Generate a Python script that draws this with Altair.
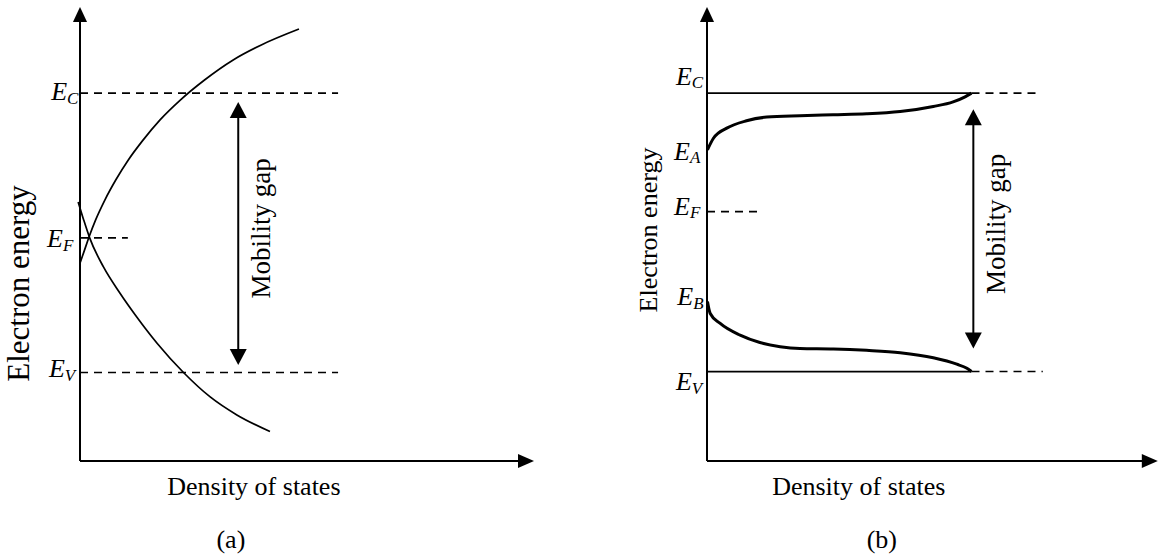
import altair as alt
import pandas as pd

FONT = "Liberation Serif"
INK = "black"

# Energy in arbitrary units (0 at the DOS axis), density of states in arbitrary units.
PANEL_W, PANEL_H = 585, 559
PX_PER_DOS, PX_PER_E = 46.0, 46.1
E_DOMAIN = [-98 / PX_PER_E, 461 / PX_PER_E]          # room below the axis for the captions
A_DOS_DOMAIN = [-80 / PX_PER_DOS, (PANEL_W - 80) / PX_PER_DOS]
B_DOS_DOMAIN = [-122 / PX_PER_DOS, (PANEL_W - 122) / PX_PER_DOS]

# ---- (a) overlapping tails: states spread through the whole gap ----------------
a_cb_dos = [0.00, 0.10, 0.20, 0.34, 0.54, 0.78, 1.05, 1.37, 1.74, 2.18, 2.70, 3.33, 3.93, 4.76]
a_cb_energy = [4.29, 4.58, 4.87, 5.23, 5.66, 6.10, 6.53, 6.96, 7.40, 7.83, 8.26, 8.70, 9.02, 9.37]
a_vb_dos = [-0.04, 0.08, 0.21, 0.51, 0.87, 1.23, 1.68, 2.25, 2.83, 3.41, 4.13]
a_vb_energy = [5.62, 5.23, 4.84, 4.21, 3.64, 3.13, 2.55, 1.92, 1.39, 1.00, 0.64]
a_level_names = ["C", "F", "V"]
a_level_energy = [7.98, 4.84, 1.92]
a_level_dash_end = [5.61, 1.04, 5.61]
a_label_dos = [-0.28, -0.37, -0.33]
a_label_energy = [7.83, 4.64, 1.82]
a_gap_dos = 3.44
a_gap_tips = [2.08, 7.79]
a_axis_tips = [9.87, 9.85]  # x-axis tip (dos), y-axis tip (energy)

# ---- (b) tails confined between E_A/E_C and E_V/E_B --------------------------
b_cb_dos = [0.01, 0.14, 0.43, 0.86, 1.30, 2.02, 2.74, 3.47, 4.20, 4.92, 5.35, 5.61, 5.75]
b_cb_energy = [6.75, 7.00, 7.22, 7.38, 7.46, 7.49, 7.51, 7.53, 7.58, 7.69, 7.79, 7.90, 7.98]
b_vb_dos = [0.01, 0.07, 0.28, 0.72, 1.15, 1.59, 2.02, 2.75, 3.47, 4.20, 4.92, 5.43, 5.65, 5.75]
b_vb_energy = [3.46, 3.20, 2.99, 2.73, 2.57, 2.48, 2.44, 2.43, 2.40, 2.35, 2.24, 2.10, 2.01, 1.94]
b_edge_energy = [7.98, 1.94]
b_edge_dos = 5.75
b_edge_dash_end = [7.24, 7.30]
b_fermi_energy = 5.41
b_fermi_dash_end = 1.09
b_label_names = ["C", "A", "F", "B", "V"]
b_label_dos = [-0.33, -0.37, -0.37, -0.30, -0.33]
b_label_energy = [8.16, 6.53, 5.34, 3.38, 1.54]
b_gap_dos = 5.79
b_gap_tips = [2.44, 7.63]
b_axis_tips = [9.80, 9.85]

HEAD_UP = "M0,0L0.47,1L-0.47,1Z"
HEAD_RIGHT = "M0,0L-1,-0.44L-1,0.44Z"
GAP_UP = "M0,0L0.53,1L-0.53,1Z"
GAP_DOWN = "M0,0L0.53,-1L-0.53,-1Z"
DASH = [8, 6]


def make_panel(dos_domain):
    def xq(field="dos"):
        return alt.X(f"{field}:Q", scale=alt.Scale(domain=dos_domain, nice=False, zero=False), axis=None)

    def yq(field="energy"):
        return alt.Y(f"{field}:Q", scale=alt.Scale(domain=E_DOMAIN, nice=False, zero=False), axis=None)

    def head(points, path, size):
        return alt.Chart(pd.DataFrame(points)).mark_point(
            shape=path, size=size, filled=True, color=INK, opacity=1
        ).encode(x=xq(), y=yq())

    def text_layer(rows, **style):
        base = dict(font=FONT, color=INK, fontSize=26, baseline="alphabetic", align="center")
        base.update(style)
        return alt.Chart(pd.DataFrame(rows)).mark_text(**base).encode(x=xq(), y=yq(), text="text:N")

    def hrules(dos, dos_end, energy, **style):
        df = pd.DataFrame({"dos": dos, "dos_end": dos_end, "energy": energy})
        return alt.Chart(df).mark_rule(color=INK, **style).encode(x=xq(), x2=alt.X2("dos_end:Q"), y=yq())

    def vrule(dos, lo, hi, **style):
        df = pd.DataFrame({"dos": [dos], "energy": [lo], "energy_end": [hi]})
        return alt.Chart(df).mark_rule(color=INK, **style).encode(x=xq(), y=yq(), y2=alt.Y2("energy_end:Q"))

    def frame(axis_tips):
        x_tip, y_tip = axis_tips
        return [
            hrules([0], [x_tip - 0.3], [0], strokeWidth=2),
            vrule(0, 0, y_tip - 0.3, strokeWidth=2),
            head([{"dos": 0, "energy": y_tip}], HEAD_UP, 900),
            head([{"dos": x_tip, "energy": 0}], HEAD_RIGHT, 1024),
        ]

    def gap_arrow(dos, tips, text_dos):
        lo, hi = tips
        return [
            vrule(dos, lo + 0.3, hi - 0.3, strokeWidth=2),
            head([{"dos": dos, "energy": hi}], GAP_UP, 1024),
            head([{"dos": dos, "energy": lo}], GAP_DOWN, 1024),
            text_layer([{"dos": text_dos, "energy": (lo + hi) / 2 + 0.11, "text": "Mobility gap"}],
                       angle=270, fontSize=27),
        ]

    def level_labels(names, dos, energy):
        df = pd.DataFrame({"dos": dos, "energy": energy, "text": ["E"] * len(names), "sub": names})
        big = alt.Chart(df).mark_text(
            font=FONT, fontStyle="italic", fontSize=26, align="right", baseline="alphabetic", color=INK
        ).encode(x=xq(), y=yq(), text="text:N")
        small = alt.Chart(df).mark_text(
            font=FONT, fontStyle="italic", fontSize=17, align="left", baseline="alphabetic", color=INK, dy=3.5
        ).encode(x=xq(), y=yq(), text="sub:N")
        return [big, small]

    def curves(dos_a, en_a, dos_b, en_b, width):
        df = pd.DataFrame(
            {"dos": dos_a + dos_b, "energy": en_a + en_b,
             "band": ["conduction"] * len(dos_a) + ["valence"] * len(dos_b)}
        )
        return alt.Chart(df).mark_line(interpolate="monotone", color=INK, strokeWidth=width).encode(
            x=xq(), y=yq(), detail="band:N"
        )

    return dict(frame=frame, gap_arrow=gap_arrow, level_labels=level_labels, curves=curves,
                hrules=hrules, text=text_layer)


# ---------------- panel (a) ----------------
pa = make_panel(A_DOS_DOMAIN)
panel_a = alt.layer(
    *pa["frame"](a_axis_tips),
    pa["hrules"]([0.0] * 3, a_level_dash_end, a_level_energy, strokeWidth=1.6, strokeDash=DASH),
    pa["curves"](a_cb_dos, a_cb_energy, a_vb_dos, a_vb_energy, 1.7),
    *pa["gap_arrow"](a_gap_dos, a_gap_tips, 4.13),
    *pa["level_labels"](a_level_names, a_label_dos, a_label_energy),
    pa["text"]([{"dos": -1.11, "energy": 3.85, "text": "Electron energy"}], angle=270, fontSize=31),
    pa["text"]([{"dos": 3.78, "energy": -0.74, "text": "Density of states"}]),
    pa["text"]([{"dos": 3.28, "energy": -1.89, "text": "(a)"}]),
).properties(width=PANEL_W, height=PANEL_H)

# ---------------- panel (b) ----------------
pb = make_panel(B_DOS_DOMAIN)
panel_b = alt.layer(
    *pb["frame"](b_axis_tips),
    pb["hrules"]([0.0, 0.0], [b_edge_dos] * 2, b_edge_energy, strokeWidth=1.7),
    pb["hrules"]([b_edge_dos, b_edge_dos, 0.0], b_edge_dash_end + [b_fermi_dash_end],
                 b_edge_energy + [b_fermi_energy], strokeWidth=1.6, strokeDash=DASH),
    pb["curves"](b_cb_dos, b_cb_energy, b_vb_dos, b_vb_energy, 3),
    *pb["gap_arrow"](b_gap_dos, b_gap_tips, 6.48),
    *pb["level_labels"](b_label_names, b_label_dos, b_label_energy),
    pb["text"]([{"dos": -1.09, "energy": 5.01, "text": "Electron energy"}], angle=270),
    pb["text"]([{"dos": 3.30, "energy": -0.74, "text": "Density of states"}]),
    pb["text"]([{"dos": 3.80, "energy": -1.89, "text": "(b)"}]),
).properties(width=PANEL_W, height=PANEL_H)

chart = (
    alt.hconcat(panel_a, panel_b, spacing=0, bounds="flush")
    .properties(padding=0, background="white")
    .configure_view(strokeWidth=0)
)

chart.save("out.html", embed_options={"renderer": "svg", "actions": False})
